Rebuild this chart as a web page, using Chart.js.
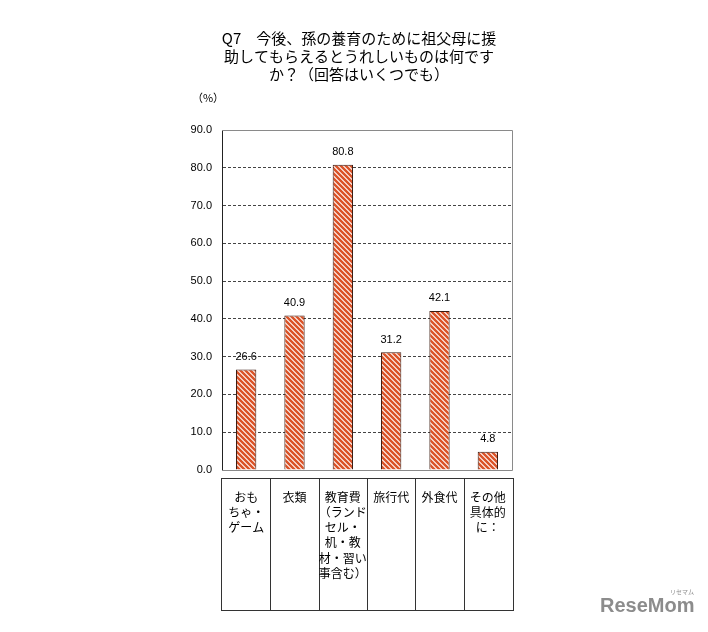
<!DOCTYPE html>
<html>
<head>
<meta charset="utf-8">
<script src="https://cdn.jsdelivr.net/npm/chart.js@4/dist/chart.umd.min.js"></script>
<style>
  html, body { margin: 0; padding: 0; background: #fff; }
  #wrap { width: 708px; height: 632px; }
</style>
</head>
<body>
<div id="wrap"><canvas id="chart" width="708" height="632"></canvas></div>
<script>
// 設問と項目
const titleLines = ['Q7\u3000今後、孫の養育のために祖父母に援', '助してもらえるとうれしいものは何です', 'か？（回答はいくつでも）']
const unitLabel = '（%）'
const categories = [
  ['おも', 'ちゃ・', 'ゲーム'],
  ['衣類'],
  ['教育費', '（ランド', 'セル・', '机・教', '材・習い', '事含む）'],
  ['旅行代'],
  ['外食代'],
  ['その他', '具体的', 'に：'],
]
const values = [26.6, 40.9, 80.8, 31.2, 42.1, 4.8]
const yMin = 0
const yMax = 90
const yStep = 10

const JP_FONT = '"Noto Sans CJK JP", "Noto Sans", sans-serif'
const NUM_FONT = '"Liberation Sans", Arial, sans-serif'

// 斜線パターン
function makeStripes() {
  const s = 5
  const c = document.createElement('canvas')
  c.width = s
  c.height = s
  const g = c.getContext('2d')
  g.fillStyle = '#ffffff'
  g.fillRect(0, 0, s, s)
  g.strokeStyle = '#db5328'
  g.lineWidth = 2.5
  g.beginPath()
  for (const off of [-s, 0, s]) {
    g.moveTo(-1, off - 1)
    g.lineTo(s + 1, s + off + 1)
  }
  g.stroke()
  return g.createPattern(c, 'repeat')
}

const ctx = document.getElementById('chart').getContext('2d')

const decorPlugin = {
  id: 'decor',
  beforeDraw(chart) {
    const c = chart.ctx
    c.save()
    c.fillStyle = '#fff'
    c.fillRect(0, 0, chart.width, chart.height)
    c.fillStyle = '#000'
    c.font = '15px ' + JP_FONT
    c.textAlign = 'center'
    c.textBaseline = 'middle'
    titleLines.forEach((t, i) => c.fillText(t, 359, 38 + i * 18))
    c.font = '11px ' + JP_FONT
    c.fillText(unitLabel, 208, 98)
    c.restore()
  },
  beforeDatasetsDraw(chart) {
    // 枠線（上・右・下）
    const a = chart.chartArea
    const c = chart.ctx
    c.save()
    c.strokeStyle = '#8a8a8a'
    c.lineWidth = 1
    c.beginPath()
    c.moveTo(a.left, a.top + 0.5)
    c.lineTo(a.right + 0.5, a.top + 0.5)
    c.lineTo(a.right + 0.5, a.bottom + 0.5)
    c.lineTo(a.left, a.bottom + 0.5)
    c.stroke()
    c.restore()
  },
  afterDatasetsDraw(chart) {
    const c = chart.ctx
    const meta = chart.getDatasetMeta(0)
    c.save()
    c.fillStyle = '#000'
    c.font = '11px ' + NUM_FONT
    c.textAlign = 'center'
    c.textBaseline = 'bottom'
    meta.data.forEach((bar, i) => {
      c.fillText(values[i].toFixed(1), bar.x, bar.y - 7)
    })
    c.restore()
  },
  afterDraw(chart) {
    // 項目名の表
    const a = chart.chartArea
    const xs = chart.scales.x
    const c = chart.ctx
    const top = 478
    const bottom = 610
    const colW = (a.right - a.left) / categories.length
    c.save()
    c.strokeStyle = '#333'
    c.lineWidth = 1
    c.strokeRect(a.left - 0.5, top + 0.5, a.right - a.left + 2, bottom - top)
    for (let i = 1; i < categories.length; i++) {
      const x = Math.round(a.left + i * colW) + 0.5
      c.beginPath()
      c.moveTo(x, top)
      c.lineTo(x, bottom)
      c.stroke()
    }
    c.fillStyle = '#000'
    c.font = '12px ' + JP_FONT
    c.textAlign = 'center'
    c.textBaseline = 'middle'
    categories.forEach((lines, i) => {
      const cx = xs.getPixelForValue(i)
      lines.forEach((t, j) => c.fillText(t, cx, 497 + j * 15.3))
    })
    // ロゴ
    c.fillStyle = '#8c8c8c'
    c.font = 'bold 20px ' + NUM_FONT
    c.textAlign = 'left'
    c.fillText('ReseMom', 600, 606)
    c.font = '6px ' + JP_FONT
    c.fillText('リセマム', 670, 592)
    c.restore()
  },
}

new Chart(ctx, {
  type: 'bar',
  data: {
    labels: categories,
    datasets: [
      {
        data: values,
        backgroundColor: makeStripes(),
        borderColor: '#3b1a10',
        borderWidth: 1,
        barPercentage: 0.42,
        categoryPercentage: 1,
      },
    ],
  },
  options: {
    responsive: false,
    animation: false,
    devicePixelRatio: 1,
    layout: {
      padding: { left: 182, right: 196, top: 130, bottom: 162 },
    },
    plugins: {
      legend: { display: false },
      tooltip: { enabled: false },
    },
    scales: {
      x: {
        display: false,
      },
      y: {
        min: yMin,
        max: yMax,
        afterFit(scale) {
          scale.width = 40
        },
        ticks: {
          stepSize: yStep,
          padding: 10,
          color: '#000',
          font: { family: NUM_FONT, size: 11 },
          callback: (v) => Number(v).toFixed(1),
        },
        grid: {
          drawTicks: false,
          color: '#444',
          lineWidth: 1,
        },
        border: {
          display: true,
          color: '#222',
          width: 1,
          dash: [3, 2],
        },
      },
    },
  },
  plugins: [decorPlugin],
})
</script>
</body>
</html>
